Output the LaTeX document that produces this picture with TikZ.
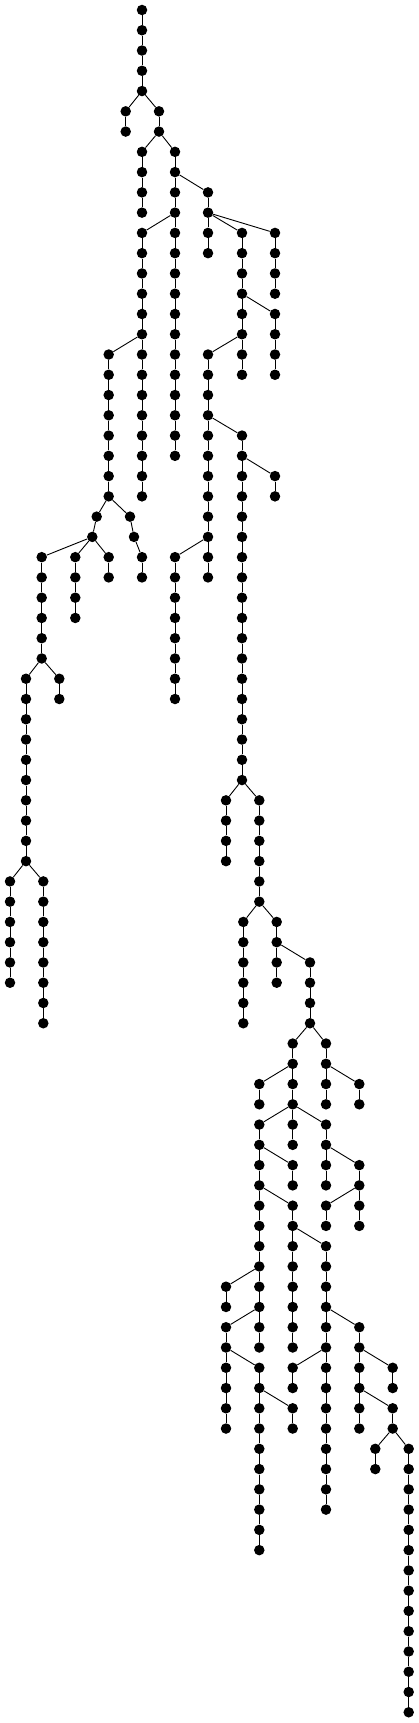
\documentclass[tikz,border=0pt]{standalone}
\usepackage{tikz}

% vertical run of nodes #1-r at x=#2, rows #3..#4
\newcommand{\chain}[4]{%
  \foreach \r in {#3,...,#4}{%
    \node[v] (#1-\r) at (#2,{-10-20.265*\r}) {};
    \ifnum\r>#3 \pgfmathtruncatemacro\p{\r-1}\draw[e] (#1-\p) -- (#1-\r);\fi
  }}

\begin{document}
\begin{tikzpicture}[x=1pt,y=1pt,
 v/.style={circle,fill=black,inner sep=0pt,minimum size=10.5pt},
 e/.style={line width=0.9pt}]
\useasboundingbox (0,0) rectangle (419,-1723);
\chain{c0}{142}{0}{4}
\chain{c1}{125.7}{5}{6}
\chain{c2}{159}{5}{6}
\chain{c3}{142}{7}{10}
\chain{c4}{175}{7}{22}
\chain{c5}{208}{9}{12}
\chain{c6}{142}{11}{24}
\chain{c7}{242}{11}{18}
\chain{c8}{275}{11}{14}
\chain{c9}{275}{15}{18}
\chain{c10}{108.7}{17}{24}
\chain{c11}{208}{17}{28}
\chain{c12}{242}{21}{38}
\chain{c13}{275}{23}{24}
\chain{c14}{96.7}{25}{25}
\chain{c14}{92.3}{26}{26}
\chain{c15}{130}{25}{25}
\chain{c15}{134}{26}{26}
\chain{c16}{41.7}{27}{32}
\chain{c17}{75.3}{27}{30}
\chain{c18}{108.7}{27}{28}
\chain{c19}{142}{27}{28}
\chain{c20}{175}{27}{34}
\chain{c21}{26}{33}{42}
\chain{c22}{59.3}{33}{34}
\chain{c23}{10}{43}{48}
\chain{c24}{43.3}{43}{50}
\chain{c25}{226}{39}{42}
\chain{c26}{259.3}{39}{44}
\chain{c27}{243.3}{45}{50}
\chain{c28}{276.7}{45}{48}
\chain{c29}{310}{47}{50}
\chain{c30}{292.7}{51}{56}
\chain{c31}{326}{51}{54}
\chain{c32}{259.3}{53}{54}
\chain{c33}{359.3}{53}{54}
\chain{c34}{259.3}{55}{66}
\chain{c36}{326}{55}{58}
\chain{c37}{292.7}{57}{58}
\chain{c38}{359.3}{57}{60}
\chain{c39}{326}{59}{60}
\chain{c40}{292.7}{59}{66}
\chain{c41}{226}{63}{64}
\chain{c42}{326}{61}{74}
\chain{c43}{226}{65}{70}
\chain{c44}{359.3}{65}{70}
\chain{c45}{259.3}{67}{76}
\chain{c46}{292.7}{67}{68}
\chain{c47}{392.7}{67}{68}
\chain{c48}{292.7}{69}{70}
\chain{c49}{392.7}{69}{70}
\chain{c50}{375.3}{71}{72}
\chain{c51}{408.7}{71}{84}
% branches
\foreach \a/\b in {c0-4/c1-5,c0-4/c2-5,c2-6/c3-7,c2-6/c4-7,c4-8/c5-9,c4-10/c6-11,
  c5-10/c7-11,c5-10/c8-11,c7-14/c9-15,c6-16/c10-17,c7-16/c11-17,c11-20/c12-21,
  c12-22/c13-23,c10-24/c14-25,c10-24/c15-25,c14-25/c14-26,c15-25/c15-26,
  c14-26/c16-27,c14-26/c17-27,c14-26/c18-27,c15-26/c19-27,c11-26/c20-27,
  c16-32/c21-33,c16-32/c22-33,c21-42/c23-43,c21-42/c24-43,c12-38/c25-39,
  c12-38/c26-39,c26-44/c27-45,c26-44/c28-45,c28-46/c29-47,c29-50/c30-51,
  c29-50/c31-51,c30-52/c32-53,c31-52/c33-53,c30-54/c34-55,c30-54/c36-55,
  c34-56/c37-57,c36-56/c38-57,c38-58/c39-59,c34-58/c40-59,c40-60/c42-61,
  c34-62/c41-63,c34-64/c43-65,c42-64/c44-65,c43-66/c45-67,c42-66/c46-67,
  c44-66/c47-67,c45-68/c48-69,c44-68/c49-69,c49-70/c50-71,c49-70/c51-71}
  \draw[e] (\a) -- (\b);
\end{tikzpicture}
\end{document}
